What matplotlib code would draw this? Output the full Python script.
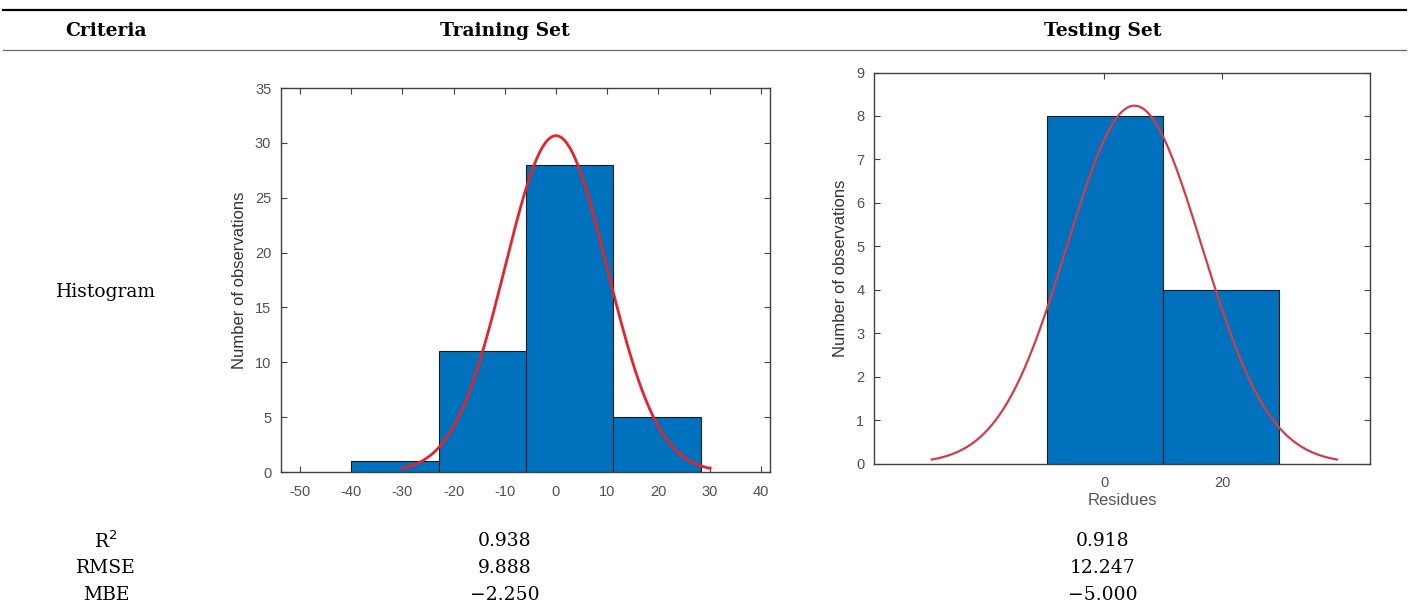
import numpy as np
import matplotlib.pyplot as plt
from matplotlib.lines import Line2D

plt.rcParams['axes.unicode_minus'] = False

# table text
headers = ["Criteria", "Training Set", "Testing Set"]
row_names = ["R$^2$", "RMSE", "MBE"]
train_vals = ["0.938", "9.888", "\u22122.250"]
test_vals = ["0.918", "12.247", "\u22125.000"]

# training residue histogram
train_edges = [-40.0, -22.9, -5.8, 11.2, 28.3]
train_counts = [1, 11, 28, 5]
train_mu, train_sigma = 0.0, 10.0

# testing residue histogram
test_edges = [-9.7, 10.0, 29.7]
test_counts = [8, 4]
test_mu, test_sigma = 5.15, 11.45

W, H = 1410, 614
fig = plt.figure(figsize=(W / 100, H / 100), dpi=100)

serif = "DejaVu Serif"
sans = "Liberation Sans"
bar_col = "#0072BD"
tick_col = "#505050"
tfs = 13.5


def fy(y):
    return 1 - y / H


def fx(x):
    return x / W


# table rules
fig.add_artist(Line2D([fx(3), fx(1406)], [fy(10), fy(10)], color="black", lw=1.6))
fig.add_artist(Line2D([fx(3), fx(1406)], [fy(50), fy(50)], color="#666666", lw=0.9))

col_x = [106, 505, 1103]
for x, t in zip(col_x, headers):
    fig.text(fx(x), fy(31), t, ha="center", va="center", family=serif,
             fontsize=tfs, fontweight="bold")

fig.text(fx(106), fy(292), "Histogram", ha="center", va="center", family=serif, fontsize=tfs)

row_y = [541, 568, 595]
for y, name, a, b in zip(row_y, row_names, train_vals, test_vals):
    fig.text(fx(106), fy(y), name, ha="center", va="center", family=serif, fontsize=tfs)
    fig.text(fx(505), fy(y), a, ha="center", va="center", family=serif, fontsize=tfs)
    fig.text(fx(1103), fy(y), b, ha="center", va="center", family=serif, fontsize=tfs)


def hist_panel(rect, edges, counts, mu, sigma, xlim, ylim, xticks, yticks, curve_lim,
               red, lw, xlabel=None):
    ax = fig.add_axes(rect)
    edges = np.array(edges)
    ax.bar(edges[:-1], counts, width=np.diff(edges), align="edge",
           color=bar_col, edgecolor="#1a1a1a", linewidth=0.8, zorder=2)
    # fitted normal, scaled to counts
    bw = np.mean(np.diff(edges))
    n = sum(counts)
    xs = np.linspace(curve_lim[0], curve_lim[1], 300)
    ys = n * bw / (sigma * np.sqrt(2 * np.pi)) * np.exp(-0.5 * ((xs - mu) / sigma) ** 2)
    ax.plot(xs, ys, color=red, lw=lw, zorder=3)
    ax.set_xlim(*xlim)
    ax.set_ylim(*ylim)
    ax.set_xticks(xticks)
    ax.set_yticks(yticks)
    ax.tick_params(direction="in", top=True, right=True, length=4, width=0.8,
                   colors="#404040", labelcolor=tick_col, labelsize=10.5)
    ax.tick_params(axis="x", pad=9)
    ax.tick_params(axis="y", pad=7)
    for lab in ax.get_xticklabels() + ax.get_yticklabels():
        lab.set_family(sans)
    for s in ax.spines.values():
        s.set_color("#404040")
        s.set_linewidth(1.0)
    ax.set_ylabel("Number of observations", family=sans, fontsize=12, color="#333333",
                  labelpad=6)
    if xlabel:
        ax.set_xlabel(xlabel, family=sans, fontsize=12, color="#555555", labelpad=2)
    return ax


hist_panel([fx(281), fy(472), (770 - 281) / W, (472 - 88) / H],
           train_edges, train_counts, train_mu, train_sigma,
           (-53.7, 41.8), (0, 35), np.arange(-50, 41, 10), np.arange(0, 36, 5),
           (-30, 30.1), "#E3242B", 2.0)

hist_panel([fx(874), fy(463.5), (1370 - 874) / W, (463.5 - 72.5) / H],
           test_edges, test_counts, test_mu, test_sigma,
           (-39.0, 45.1), (0, 9), [0, 20], np.arange(0, 10, 1),
           (-29.2, 39.5), "#D63A45", 1.6, xlabel="Residues")

fig.savefig("out.png", dpi=100)
